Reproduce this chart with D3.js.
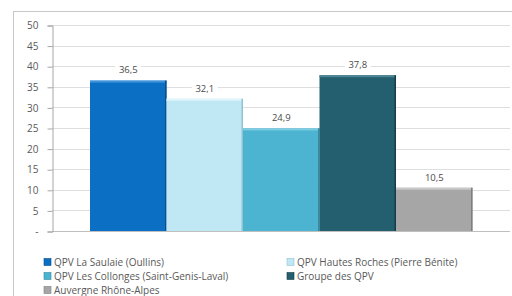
<!DOCTYPE html>
<html>
<head>
<meta charset="utf-8">
<script src="https://cdn.jsdelivr.net/npm/d3@7"></script>
<style>
  body { margin: 0; background: #fff; }
  svg text { font-family: "Open Sans", sans-serif; fill: #595959; }
</style>
</head>
<body>
<div id="chart"></div>
<script>
// data
var seriesNames = ["QPV La Saulaie (Oullins)", "QPV Hautes Roches (Pierre Bénite)",
  "QPV Les Collonges (Saint-Genis-Laval)", "Groupe des QPV", "Auvergne Rhône-Alpes"];
var seriesValues = [36.5, 32.1, 24.9, 37.8, 10.5];
var seriesColors = ["#0b6fc4", "#bfe8f4", "#4cb3d0", "#235f6e", "#a6a6a6"];
var edgeColors = ["#084f8c", "#8fc4d3", "#348aa1", "#153f49", "#7f7f7f"];
var topColors = ["#3d93dc", "#dff5fb", "#7ccde2", "#4d8593", "#c8c8c8"];
var yTicks = [0, 5, 10, 15, 20, 25, 30, 35, 40, 45, 50];

var width = 512, height = 296;
var plot = {left: 52, right: 510, top: 25, bottom: 231};

var svg = d3.select("#chart").append("svg")
  .attr("width", width).attr("height", height);

// outer frame
svg.append("rect")
  .attr("x", 13.5).attr("y", 11.5)
  .attr("width", 540).attr("height", 320)
  .attr("fill", "none").attr("stroke", "#c8c8c8");

var y = d3.scaleLinear().domain([0, 50]).range([plot.bottom, plot.top]);
var x = d3.scaleBand().domain(seriesNames)
  .range([90, 472.5]).paddingInner(0).paddingOuter(0);

// gridlines
svg.append("g").selectAll("line").data(yTicks).join("line")
  .attr("x1", plot.left).attr("x2", plot.right)
  .attr("y1", function(d){ return Math.round(y(d)) + 0.5; })
  .attr("y2", function(d){ return Math.round(y(d)) + 0.5; })
  .attr("stroke", function(d){ return d === 0 ? "#bfbfbf" : "#dedede"; });

// y axis
var yAxis = d3.axisLeft(y).tickValues(yTicks).tickSize(5).tickPadding(9)
  .tickFormat(function(d){ return d === 0 ? "-" : d; });
var gy = svg.append("g").attr("transform", "translate(" + (plot.left + 0.5) + ",0.5)").call(yAxis);
gy.select(".domain").attr("stroke", "#a6a6a6");
gy.selectAll(".tick line").attr("stroke", "#a6a6a6");
gy.selectAll(".tick text").attr("font-size", 10).style("fill", "#595959");

// bars
var bars = svg.append("g").selectAll("g").data(seriesNames).join("g");
bars.append("rect")
  .attr("x", function(d){ return x(d); })
  .attr("y", function(d, i){ return y(seriesValues[i]); })
  .attr("width", x.bandwidth())
  .attr("height", function(d, i){ return y(0) - y(seriesValues[i]); })
  .attr("fill", function(d, i){ return seriesColors[i]; });
// bevel: light top edge, dark right edge
bars.append("rect")
  .attr("x", function(d){ return x(d); })
  .attr("y", function(d, i){ return y(seriesValues[i]); })
  .attr("width", x.bandwidth())
  .attr("height", 2)
  .attr("fill", function(d, i){ return topColors[i]; });
bars.append("rect")
  .attr("x", function(d){ return x(d) + x.bandwidth() - 1.5; })
  .attr("y", function(d, i){ return y(seriesValues[i]); })
  .attr("width", 1.5)
  .attr("height", function(d, i){ return y(0) - y(seriesValues[i]); })
  .attr("fill", function(d, i){ return edgeColors[i]; });

// value labels with white background
var labels = svg.append("g").selectAll("g").data(seriesNames).join("g")
  .attr("transform", function(d, i){
    return "translate(" + (x(d) + x.bandwidth() / 2) + "," + (y(seriesValues[i]) - 10.5) + ")";
  });
labels.append("rect")
  .attr("x", -13).attr("y", -7).attr("width", 26).attr("height", 13)
  .attr("fill", "#fff");
labels.append("text")
  .attr("text-anchor", "middle").attr("dy", "0.35em")
  .attr("font-size", 9.5)
  .style("fill", "#4a4a4a")
  .text(function(d, i){ return String(seriesValues[i]).replace(".", ","); });

// legend
var legendPos = [[44, 262], [287, 262], [44, 276], [287, 276], [44, 290]];
var legend = svg.append("g").selectAll("g").data(seriesNames).join("g")
  .attr("transform", function(d, i){ return "translate(" + legendPos[i][0] + "," + legendPos[i][1] + ")"; });
legend.append("rect")
  .attr("x", 0).attr("y", -3.5).attr("width", 7).attr("height", 7)
  .attr("fill", function(d, i){ return seriesColors[i]; })
  .attr("stroke", function(d, i){ return edgeColors[i]; }).attr("stroke-width", 0.6);
legend.append("text")
  .attr("x", 10).attr("dy", "0.35em")
  .attr("font-size", 10)
  .text(function(d){ return d; });
</script>
</body>
</html>
